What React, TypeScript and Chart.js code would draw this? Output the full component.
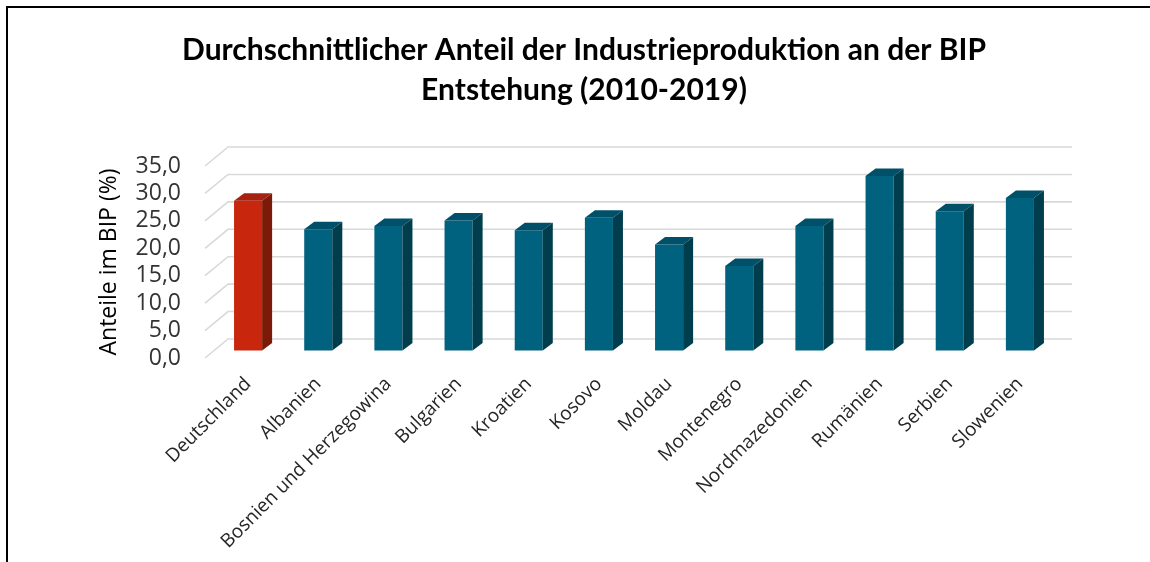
import React, { useEffect, useRef } from 'react';
import { Chart, registerables } from 'chart.js';

Chart.register(...registerables);

// ---- data ----
const TITLE_LINES = [
  'Durchschnittlicher Anteil der Industrieproduktion an der BIP',
  'Entstehung (2010-2019)',
];
const Y_TITLE = 'Anteile im BIP (%)';
const CATEGORIES = [
  'Deutschland',
  'Albanien',
  'Bosnien und Herzegowina',
  'Bulgarien',
  'Kroatien',
  'Kosovo',
  'Moldau',
  'Montenegro',
  'Nordmazedonien',
  'Rumänien',
  'Serbien',
  'Slowenien',
];
const VALUES = [27.3, 22.1, 22.7, 23.7, 21.9, 24.2, 19.3, 15.4, 22.7, 31.8, 25.4, 27.8];
const HIGHLIGHT = 'Deutschland';
const Y_MIN = 0;
const Y_MAX = 35;
const Y_STEP = 5;

// ---- style ----
const TEAL = { front: '#00627E', side: '#003D4D', top: '#00506A' };
const RED = { front: '#C8270E', side: '#7C1A09', top: '#A82210' };
const GRID_COLOR = '#d9d9d9';
const BAR_DX = 10; // bar depth (px)
const BAR_DY = 7.5;
const WALL_DY = 19; // floor depth (px)
const FLOOR_FRONT_DX = -8;
const FLOOR_BACK_DX = 15;
const WALL_RIGHT_EXT = 17;
const BAR_PLANE_SHIFT = 1.37; // bars sit slightly behind the tick plane (in axis units)

const paletteFor = (i: number) => (CATEGORIES[i] === HIGHLIGHT ? RED : TEAL);

const fmt = (v: number) => v.toFixed(1).replace('.', ',');

const bar3d = {
  id: 'bar3d',
  beforeDatasetsDraw(chart: any) {
    const { ctx, chartArea, scales } = chart;
    const y = scales.y;
    ctx.save();
    ctx.strokeStyle = GRID_COLOR;
    ctx.lineWidth = 1.6;
    y.ticks.forEach((t: any) => {
      const py = y.getPixelForValue(t.value);
      ctx.beginPath();
      ctx.moveTo(chartArea.left + FLOOR_FRONT_DX, py);
      ctx.lineTo(chartArea.left + FLOOR_BACK_DX, py - WALL_DY);
      ctx.lineTo(chartArea.right + WALL_RIGHT_EXT, py - WALL_DY);
      ctx.stroke();
    });
    ctx.restore();
  },
  afterDatasetsDraw(chart: any) {
    const { ctx } = chart;
    const meta = chart.getDatasetMeta(0);
    ctx.save();
    meta.data.forEach((el: any, i: number) => {
      const { x, y, base, width } = el.getProps(['x', 'y', 'base', 'width'], true);
      const l = x - width / 2;
      const r = x + width / 2;
      const p = paletteFor(i);
      // top face
      ctx.fillStyle = p.top;
      ctx.beginPath();
      ctx.moveTo(l, y);
      ctx.lineTo(l + BAR_DX, y - BAR_DY);
      ctx.lineTo(r + BAR_DX, y - BAR_DY);
      ctx.lineTo(r, y);
      ctx.closePath();
      ctx.fill();
      // side face
      ctx.fillStyle = p.side;
      ctx.beginPath();
      ctx.moveTo(r, y);
      ctx.lineTo(r + BAR_DX, y - BAR_DY);
      ctx.lineTo(r + BAR_DX, base - BAR_DY);
      ctx.lineTo(r, base);
      ctx.closePath();
      ctx.fill();
    });
    ctx.restore();
  },
};

export default function App() {
  const ref = useRef<HTMLCanvasElement>(null);

  useEffect(() => {
    if (!ref.current) return;
    const chart = new Chart(ref.current, {
      type: 'bar',
      data: {
        labels: CATEGORIES,
        datasets: [
          {
            data: VALUES,
            yAxisID: 'yb',
            backgroundColor: CATEGORIES.map((_, i) => paletteFor(i).front),
            borderWidth: 0,
            barPercentage: 0.4,
            categoryPercentage: 1,
          },
        ],
      },
      options: {
        animation: false,
        responsive: true,
        maintainAspectRatio: false,
        layout: { padding: { left: 10, right: 0, top: 0, bottom: 0 } },
        plugins: {
          legend: { display: false },
          tooltip: { enabled: false },
          title: {
            display: true,
            text: TITLE_LINES,
            color: '#000',
            font: { family: 'Lato', size: 30, weight: 'bold', lineHeight: '40px' },
            padding: { top: 22, bottom: 56 },
          },
        },
        scales: {
          x: {
            type: 'category',
            grid: { display: false },
            border: { display: false },
            ticks: {
              autoSkip: false,
              minRotation: 45,
              maxRotation: 45,
              color: '#262626',
              padding: 7,
              font: { family: 'Open Sans', size: 19 },
            },
            afterFit: (s: any) => {
              s.height = 204;
            },
          },
          y: {
            position: 'left',
            min: Y_MIN,
            max: Y_MAX,
            grid: { display: false },
            border: { display: false },
            ticks: {
              stepSize: Y_STEP,
              autoSkip: false,
              color: '#333',
              padding: 24,
              font: { family: 'Open Sans', size: 23, lineHeight: 1 },
              callback: (v: any) => fmt(Number(v)),
            },
            title: {
              display: true,
              text: Y_TITLE,
              color: '#000',
              font: { family: 'Open Sans', size: 23 },
              padding: { top: 78, bottom: 0 },
            },
            afterFit: (s: any) => {
              s.width = 195;
            },
          },
          yb: {
            display: false,
            position: 'left',
            min: Y_MIN - BAR_PLANE_SHIFT,
            max: Y_MAX - BAR_PLANE_SHIFT,
          },
          yr: {
            position: 'right',
            grid: { display: false },
            border: { display: false },
            ticks: { display: false },
            afterFit: (s: any) => {
              s.width = 95;
            },
          },
        },
      },
      plugins: [bar3d],
    } as any);
    return () => chart.destroy();
  }, []);

  return (
    <div
      style={{
        position: 'fixed',
        left: 6,
        top: 6,
        width: 1144,
        height: 556,
        borderTop: '2px solid #000',
        borderLeft: '2px solid #000',
        boxSizing: 'border-box',
        background: '#fff',
      }}
    >
      <div style={{ position: 'relative', width: 1142, height: 554 }}>
        <canvas ref={ref} />
      </div>
    </div>
  );
}
